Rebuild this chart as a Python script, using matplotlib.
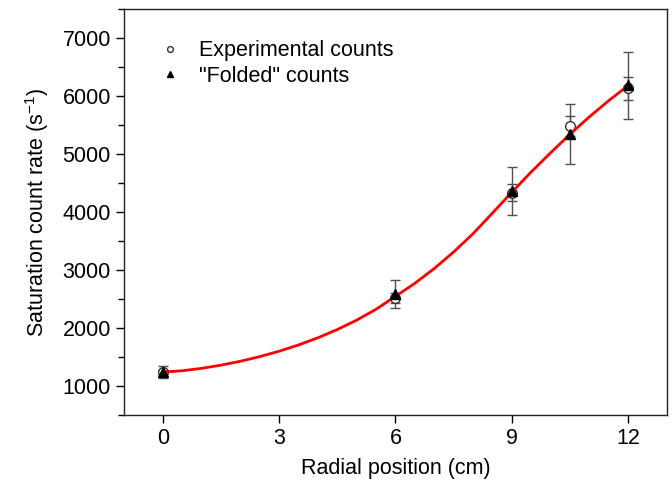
import matplotlib
matplotlib.use('Agg')
import matplotlib.pyplot as plt
from matplotlib.ticker import MultipleLocator

plt.rcParams['font.family'] = ['Liberation Sans', 'DejaVu Sans']
plt.rcParams['mathtext.default'] = 'regular'

# measured points
pos = [0, 6, 9, 10.5, 12]
exp_counts = [1240, 2517, 4330, 5483, 6130]
exp_err = [40, 85, 145, 172, 200]
fold_counts = [1240, 2586, 4360, 5345, 6180]
fold_err = [110, 240, 415, 510, 580]

# fitted curve
fit_x = [0, 0.5, 1, 1.5, 2, 2.5, 3, 3.5, 4, 4.5, 5, 5.5, 6, 6.5, 7, 7.5,
         8, 8.5, 9, 9.5, 10, 10.5, 11, 11.5, 12]
fit_y = [1240, 1262, 1304, 1359, 1426, 1506, 1599, 1707, 1831, 1973, 2135,
         2323, 2545, 2770, 3025, 3310, 3625, 3980, 4340, 4690, 5020, 5340,
         5640, 5920, 6180]

fig = plt.figure(figsize=(6.72, 4.84), dpi=100)
ax = fig.add_axes([0.1845, 0.1426, 0.808, 0.839])

ax.errorbar(pos, exp_counts, yerr=exp_err, fmt='none', ecolor='#505050',
            elinewidth=1, capsize=3.5, capthick=1, zorder=2)
ax.errorbar(pos, fold_counts, yerr=fold_err, fmt='none', ecolor='#505050',
            elinewidth=1, capsize=3.5, capthick=1, zorder=2)
ax.plot(pos, exp_counts, 'o', mfc='white', mec='#333333', mew=1, ms=7,
        zorder=3, label='Experimental counts')
ax.plot(fit_x, fit_y, color='red', lw=2, zorder=4)
ax.plot(pos, fold_counts, '^', color='black', ms=6.5, zorder=5,
        label='"Folded" counts')

ax.set_xlim(-1, 13)
ax.set_ylim(500, 7500)
ax.set_xticks([0, 3, 6, 9, 12])
ax.yaxis.set_major_locator(MultipleLocator(1000))
ax.yaxis.set_minor_locator(MultipleLocator(500))
ax.tick_params(which='major', direction='out', length=6, width=1,
               labelsize=15.5, top=False, right=False)
ax.tick_params(which='minor', direction='out', length=4, width=1)
ax.tick_params(axis='x', which='minor', bottom=False)
for s in ax.spines.values():
    s.set_color('#222222')
    s.set_linewidth(1)

ax.set_xlabel('Radial position (cm)', fontsize=15.5, labelpad=6)
ax.set_ylabel('Saturation count rate (s$^{-1}$)', fontsize=15.5, labelpad=8)

leg = ax.legend(loc='upper left', bbox_to_anchor=(0.026, 0.97), frameon=False,
                fontsize=15.5, markerscale=0.6, handlelength=1.2,
                handletextpad=0.72, labelspacing=0.2)

fig.savefig('out.png', dpi=100)
